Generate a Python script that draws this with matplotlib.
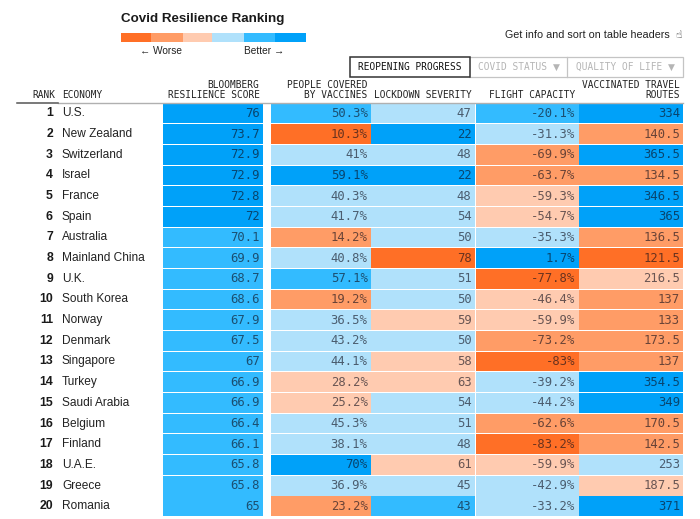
import matplotlib
matplotlib.use("Agg")
import matplotlib.pyplot as plt
from matplotlib.patches import Rectangle

economies = ["U.S.", "New Zealand", "Switzerland", "Israel", "France", "Spain", "Australia",
             "Mainland China", "U.K.", "South Korea", "Norway", "Denmark", "Singapore", "Turkey",
             "Saudi Arabia", "Belgium", "Finland", "U.A.E.", "Greece", "Romania"]
score = ["76", "73.7", "72.9", "72.9", "72.8", "72", "70.1", "69.9", "68.7", "68.6",
         "67.9", "67.5", "67", "66.9", "66.9", "66.4", "66.1", "65.8", "65.8", "65"]
people = ["50.3%", "10.3%", "41%", "59.1%", "40.3%", "41.7%", "14.2%", "40.8%", "57.1%", "19.2%",
          "36.5%", "43.2%", "44.1%", "28.2%", "25.2%", "45.3%", "38.1%", "70%", "36.9%", "23.2%"]
lockdown = ["47", "22", "48", "22", "48", "54", "50", "78", "51", "50",
            "59", "50", "58", "63", "54", "51", "48", "61", "45", "43"]
flight = ["-20.1%", "-31.3%", "-69.9%", "-63.7%", "-59.3%", "-54.7%", "-35.3%", "1.7%", "-77.8%", "-46.4%",
          "-59.9%", "-73.2%", "-83%", "-39.2%", "-44.2%", "-62.6%", "-83.2%", "-59.9%", "-42.9%", "-33.2%"]
routes = ["334", "140.5", "365.5", "134.5", "346.5", "365", "136.5", "121.5", "216.5", "137",
          "133", "173.5", "137", "354.5", "349", "170.5", "142.5", "253", "187.5", "371"]

# colour class of each cell: 0 worst ... 5 best
score_lv = [5, 5, 5, 5, 5, 5, 4, 4, 4, 4, 4, 4, 4, 4, 4, 4, 4, 4, 4, 4]
people_lv = [4, 0, 3, 5, 3, 3, 1, 3, 4, 1, 3, 3, 3, 2, 2, 3, 3, 5, 3, 1]
lockdown_lv = [3, 5, 3, 5, 3, 3, 3, 0, 3, 3, 2, 3, 2, 2, 3, 3, 3, 2, 3, 4]
flight_lv = [4, 3, 1, 1, 2, 2, 3, 5, 0, 2, 2, 1, 0, 3, 3, 1, 0, 2, 3, 3]
routes_lv = [5, 1, 5, 1, 5, 5, 1, 0, 2, 1, 1, 1, 1, 5, 5, 1, 1, 3, 2, 5]

palette = ["#FF6F26", "#FF9C66", "#FFCBB0", "#B0E1FB", "#33BBFF", "#00A1F9"]
columns = [(score, score_lv), (people, people_lv), (lockdown, lockdown_lv), (flight, flight_lv), (routes, routes_lv)]
col_left = [163, 270.5, 371, 475.5, 579]
col_right = [262.5, 370.5, 474.5, 578.5, 683]
headers = [["BLOOMBERG", "RESILIENCE SCORE"], ["PEOPLE COVERED", "BY VACCINES"], ["LOCKDOWN SEVERITY"],
           ["FLIGHT CAPACITY"], ["VACCINATED TRAVEL", "ROUTES"]]

MONO = "DejaVu Sans Mono"
SANS = "Liberation Sans"
top, row_h = 103.5, 20.68

fig = plt.figure(figsize=(7, 5.19), dpi=100)
ax = fig.add_axes([0, 0, 1, 1])
ax.set_xlim(0, 700)
ax.set_ylim(519, 0)
ax.axis("off")

# title and key
ax.text(121, 19, "Covid Resilience Ranking", fontsize=9.6, fontweight="bold", family=SANS, color="#1a1a1a", va="center")
key_edges = [121, 151, 183, 212, 244, 275, 306]
for i, c in enumerate(palette):
    ax.add_patch(Rectangle((key_edges[i], 33), key_edges[i + 1] - key_edges[i], 9, fc=c, ec="none"))
ax.text(140, 50.5, "← Worse", fontsize=7.3, family=["Liberation Sans", "DejaVu Sans"], color="#222222", va="center")
ax.text(244.5, 50.5, "Better →", fontsize=7.3, family=["Liberation Sans", "DejaVu Sans"], color="#222222", va="center")
ax.text(670, 35, "Get info and sort on table headers", fontsize=7.75, family=SANS, color="#222222", va="center", ha="right")
ax.text(678.5, 34.5, "☝", fontsize=7.5, family="DejaVu Sans", color="#222222", va="center", ha="center")

# tabs
ax.add_patch(Rectangle((469, 56.5), 214, 20.5, fc="white", ec="#c4c4c4", lw=0.9))
ax.plot([567, 567], [56.5, 77], color="#c4c4c4", lw=0.9)
ax.add_patch(Rectangle((350, 56.5), 119.5, 20.5, fc="white", ec="#333333", lw=1.1, zorder=3))
ax.text(409.5, 67, "REOPENING PROGRESS", fontsize=6.85, family=MONO, color="#111111", ha="center", va="center", zorder=4)
ax.text(477.5, 67, "COVID STATUS", fontsize=6.85, family=MONO, color="#b5b5b5", va="center")
ax.text(575.5, 67, "QUALITY OF LIFE", fontsize=6.85, family=MONO, color="#b5b5b5", va="center")
ax.text(556, 67, "▼", fontsize=6.5, family="DejaVu Sans", color="#b5b5b5", va="center", ha="center")
ax.text(671, 67, "▼", fontsize=6.5, family="DejaVu Sans", color="#b5b5b5", va="center", ha="center")

# header row
ax.text(55.5, 95.5, "RANK", fontsize=6.85, family=MONO, color="#222222", ha="right", va="center")
ax.text(62, 95.5, "ECONOMY", fontsize=6.85, family=MONO, color="#222222", va="center")
for right, lines in zip(col_right, headers):
    for k, line in enumerate(reversed(lines)):
        ax.text(right - 3, 95.5 - 10 * k, line, fontsize=6.85, family=MONO, color="#222222", ha="right", va="center")
ax.plot([58, 683], [103, 103], color="#b0b0b0", lw=1, zorder=5)
ax.plot([17, 58], [102.5, 102.5], color="#555555", lw=1.1, zorder=5)

# table body
for i, name in enumerate(economies):
    y = top + row_h * i
    yc = y + row_h / 2 - 0.5
    ax.text(53, yc, str(i + 1), fontsize=8.8, fontweight="bold", family=["Liberation Sans"], color="#1a1a1a", ha="right", va="center")
    ax.text(62, yc, name, fontsize=8.6, family=SANS, color="#222222", va="center")
    for (vals, lvls), x0, x1 in zip(columns, col_left, col_right):
        ax.add_patch(Rectangle((x0, y), x1 - x0, row_h - 0.9, fc=palette[lvls[i]], ec="none"))
        ax.text(x1 - 3, yc, vals[i], fontsize=8.85, family=MONO, color=(0.05, 0.05, 0.1, 0.62), ha="right", va="center")

fig.savefig("out.png", dpi=100)
